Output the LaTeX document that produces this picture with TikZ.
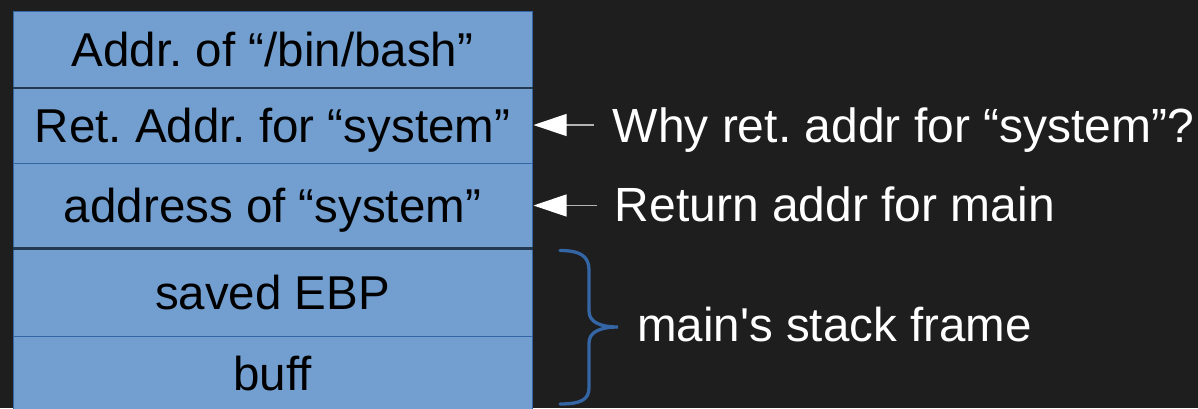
\documentclass[tikz,border=0pt]{standalone}
\usepackage{fontspec}
\newfontfamily\lsans{Liberation Sans}
\usetikzlibrary{arrows.meta}
\definecolor{bgc}{HTML}{1E1E1E}
\definecolor{boxfill}{HTML}{729FCF}
\definecolor{boxline}{HTML}{3465A4}
\definecolor{divline}{HTML}{233750}
\definecolor{arrline}{HTML}{B4B4B4}
\begin{document}
\begin{tikzpicture}[x=1pt,y=-1pt,
  every node/.style={font=\lsans\frenchspacing\fontsize{47.5}{56}\selectfont, inner sep=0pt},
  cell/.style={draw=boxline, line width=1pt, fill=boxfill, text=black,
    minimum width=519pt, text height=34pt, text depth=0pt},
  lbl/.style={text=white, anchor=base west},
  pointer/.style={draw=arrline, line width=1.2pt,
    -{Triangle[length=33pt,width=22pt,color=white]}},
  bracec/.style={draw=boxline, line width=3.3pt, line cap=round}]
  \fill[bgc] (0,0) rectangle (1198,408);
  \useasboundingbox (0,0) rectangle (1198,408);
  \begin{scope}
  \clip (0,0) rectangle (1198,408);
  \node[cell, minimum height=75.5pt] (r1) at (272.5,49.25) {Addr. of “/bin/bash”};
  \node[cell, minimum height=76pt] (r2) at (272.5,125) {Ret. Addr. for “system”};
  \node[cell, minimum height=85pt] (r3) at (272.5,205.5) {address of “system”};
  \node[cell, minimum height=88.5pt] (r4) at (272.5,292.25) {saved EBP};
  \node[cell, minimum height=73pt] (r5) at (272.5,373) {buff};
  \draw[divline, line width=2pt] (r1.south west) -- (r1.south east);
  \draw[divline, line width=2.8pt] (r3.south west) -- (r3.south east);
  \end{scope}
  \node[lbl, font=\lsans\frenchspacing\fontsize{48}{56}\selectfont] (why) at (612.5,142) {Why ret. addr for “system”?};
  \node[lbl, font=\lsans\frenchspacing\fontsize{48}{56}\selectfont] (ret) at (614.5,221.5) {Return addr for main};
  \node[lbl, font=\lsans\frenchspacing\fontsize{47.5}{56}\selectfont] (frame) at (637,341.5) {main's stack frame};
  \draw[pointer, shorten <=18.5pt, shorten >=1pt] (why.west |- r2.east) -- (r2.east);
  \draw[pointer, shorten <=17.5pt, shorten >=1pt] (ret.west |- r3.east) -- (r3.east);
  \coordinate (btop) at (560,250.5);
  \coordinate (bbot) at (560,404);
  \coordinate (btip) at (618,327);
  \draw[bracec] (btop) .. controls (580,250.5) and (589,256) .. (589,270)
    -- (589,311) .. controls (589,322) and (600,327) .. (btip)
    .. controls (600,327) and (589,332) .. (589,343)
    -- (589,388) .. controls (589,400) and (580,404) .. (bbot);
\end{tikzpicture}
\end{document}
